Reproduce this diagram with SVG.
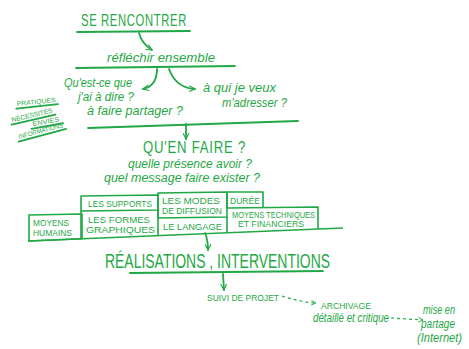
<svg xmlns="http://www.w3.org/2000/svg" width="469" height="349" viewBox="0 0 469 349">
<defs>
<style>
text{fill:#1fa845;font-family:"Liberation Sans",Arial,sans-serif}
.cap{font-size:17px;letter-spacing:1px}
.hw{font-style:italic;font-size:12.5px}
.sm{font-size:8.5px}
.tiny{font-size:6.5px}
.ln{stroke:#1fa845;stroke-width:1.8;fill:none;stroke-linecap:round;stroke-linejoin:round}
.box{stroke:#1fa845;stroke-width:1.6;fill:none;stroke-linejoin:round}
.dash{stroke:#1fa845;stroke-width:1.2;fill:none;stroke-dasharray:3 3}
</style>
<marker id="ah" viewBox="0 0 10 10" refX="9" refY="5" markerWidth="7" markerHeight="7" orient="auto" markerUnits="userSpaceOnUse">
<path d="M1,1 L9,5 L1,9" stroke="#1fa845" stroke-width="1.6" fill="none" stroke-linecap="round" stroke-linejoin="round"/>
</marker>
<marker id="ahs" viewBox="0 0 10 10" refX="9" refY="5" markerWidth="6" markerHeight="6" orient="auto" markerUnits="userSpaceOnUse">
<path d="M1,1 L9,5 L1,9" stroke="#1fa845" stroke-width="1.4" fill="none"/>
</marker>
</defs>
<rect width="469" height="349" fill="#fff"/>

<g id="se-rencontrer">
<text class="cap" x="81" y="26" textLength="106" lengthAdjust="spacingAndGlyphs">SE RENCONTRER</text>
<path class="ln" d="M77,32 L190,31"/>
</g>

<g id="reflechir">
<text class="hw" x="107" y="62" font-size="14" textLength="108" lengthAdjust="spacingAndGlyphs">réfléchir ensemble</text>
<path class="ln" d="M76,68 L235,66"/>
</g>

<g id="quest-ce">
<text class="hw" x="64" y="87" textLength="68" lengthAdjust="spacingAndGlyphs">Qu'est-ce que</text>
<text class="hw" x="78" y="101" textLength="56" lengthAdjust="spacingAndGlyphs">j'ai à dire ?</text>
<text class="hw" x="87" y="115" textLength="96" lengthAdjust="spacingAndGlyphs">à faire partager ?</text>
</g>

<g id="a-qui">
<text class="hw" x="203" y="92" textLength="73" lengthAdjust="spacingAndGlyphs">à qui je veux</text>
<text class="hw" x="222" y="107" textLength="65" lengthAdjust="spacingAndGlyphs">m'adresser ?</text>
</g>

<g id="liste">
<g transform="translate(17,106) rotate(-6)">
<text class="tiny" x="0" y="0" textLength="39" lengthAdjust="spacingAndGlyphs">PRATIQUES</text>
<path class="ln" stroke-width="1.1" d="M-1,2.5 L41,2.5"/>
</g>
<g transform="translate(12,122) rotate(-13)">
<text class="tiny" x="0" y="0" textLength="42" lengthAdjust="spacingAndGlyphs">NÉCESSITÉS</text>
<path class="ln" stroke-width="1.1" d="M-1,2.5 L44,2.5"/>
</g>
<g transform="translate(33,126) rotate(-10)">
<text class="tiny" x="0" y="0" textLength="27" lengthAdjust="spacingAndGlyphs">ENVIES</text>
<path class="ln" stroke-width="1.1" d="M-2,2.5 L30,2.5"/>
</g>
<g transform="translate(19,139) rotate(-15)">
<text class="tiny" x="0" y="0" textLength="46" lengthAdjust="spacingAndGlyphs">INFORMATIONS</text>
<path class="ln" stroke-width="1.1" d="M-1,2.5 L48,2.5"/>
</g>
</g>

<g id="quen-faire">
<path class="ln" d="M88,128 L298,121"/>
<text class="cap" x="143" y="153" font-size="16" textLength="103" lengthAdjust="spacingAndGlyphs">QU'EN FAIRE ?</text>
<text class="hw" x="128" y="168" textLength="124" lengthAdjust="spacingAndGlyphs">quelle présence avoir ?</text>
<text class="hw" x="104" y="182" textLength="156" lengthAdjust="spacingAndGlyphs">quel message faire exister ?</text>
</g>

<g id="moyens-humains">
<path class="box" d="M29,215 L82,214 L82,238.8 L29,241 Z"/>
<text class="sm" x="33" y="226" textLength="36" lengthAdjust="spacingAndGlyphs">MOYENS</text>
<text class="sm" x="33" y="236" textLength="39" lengthAdjust="spacingAndGlyphs">HUMAINS</text>
</g>

<g id="supports">
<path class="box" d="M81,211 L81,196 L158,195 L158,210 Z"/>
<text class="sm" x="88" y="207" textLength="64" lengthAdjust="spacingAndGlyphs">LES SUPPORTS</text>
</g>

<g id="formes">
<path class="box" d="M81,211 L81,238.8 M158,210 L158,235.6"/>
<text class="sm" x="88" y="223" textLength="62" lengthAdjust="spacingAndGlyphs">LES FORMES</text>
<text class="sm" x="86" y="233" textLength="69" lengthAdjust="spacingAndGlyphs">GRAPHIQUES</text>
</g>

<g id="modes">
<path class="box" d="M158,218 L158,193 L227,192 L227,217 Z"/>
<text class="sm" x="162" y="204" textLength="58" lengthAdjust="spacingAndGlyphs">LES MODES</text>
<text class="sm" x="162" y="214" textLength="60" lengthAdjust="spacingAndGlyphs">DE DIFFUSION</text>
</g>

<g id="langage">
<path class="box" d="M227,217 L227,232.8"/>
<text class="sm" x="163" y="230" textLength="59" lengthAdjust="spacingAndGlyphs">LE LANGAGE</text>
</g>

<g id="duree">
<path class="box" d="M227,208 L227,192 L263,192 L263,207.5"/>
<text class="sm" x="230" y="204" textLength="30" lengthAdjust="spacingAndGlyphs">DURÉE</text>
</g>

<g id="moyens-techniques">
<path class="box" d="M227,208 L318,207 L318,229"/>
<text class="sm" x="232" y="218" textLength="83" lengthAdjust="spacingAndGlyphs">MOYENS TECHNIQUES</text>
<text class="sm" x="238" y="227" textLength="66" lengthAdjust="spacingAndGlyphs">ET FINANCIERS</text>
</g>

<g id="realisations">
<text x="105" y="268" font-size="20" textLength="225" lengthAdjust="spacingAndGlyphs">RÉALISATIONS , INTERVENTIONS</text>
<path class="ln" d="M130,273 L323,271"/>
</g>

<g id="suivi">
<text class="sm" x="207" y="301" font-size="9" textLength="72" lengthAdjust="spacingAndGlyphs">SUIVI DE PROJET</text>
</g>

<g id="archivage">
<text class="sm" x="321" y="309" textLength="50" lengthAdjust="spacingAndGlyphs">ARCHIVAGE</text>
<text class="hw" x="313" y="322" font-size="10" textLength="76" lengthAdjust="spacingAndGlyphs">détaillé et critique</text>
</g>

<g id="partage">
<text class="hw" x="423" y="314" font-size="10" textLength="32" lengthAdjust="spacingAndGlyphs">mise en</text>
<text class="hw" x="421" y="328" font-size="10" textLength="34" lengthAdjust="spacingAndGlyphs">partage</text>
<text class="hw" x="417" y="342" font-size="10" textLength="45" lengthAdjust="spacingAndGlyphs">(Internet)</text>
</g>

<g id="connectors">
<path class="ln" d="M139,33 Q142,44 152,50" marker-end="url(#ah)"/>
<path class="ln" d="M157,69 Q157,86 143,89" marker-end="url(#ah)"/>
<path class="ln" d="M169,69 Q176,88 195,89" marker-end="url(#ah)"/>
<path class="ln" d="M186,124 L186,139" marker-end="url(#ah)"/>
<path class="box" d="M28,241 L343,228"/>
<path class="ln" d="M205,233 Q208,240 208,250" marker-end="url(#ah)"/>
<path class="ln" d="M223,274 L224,290" marker-end="url(#ah)"/>
<path class="dash" d="M282,296 Q300,302 316,303" marker-end="url(#ahs)"/>
<path class="dash" d="M391,318 L423,320" marker-end="url(#ahs)"/>
</g>
</svg>
